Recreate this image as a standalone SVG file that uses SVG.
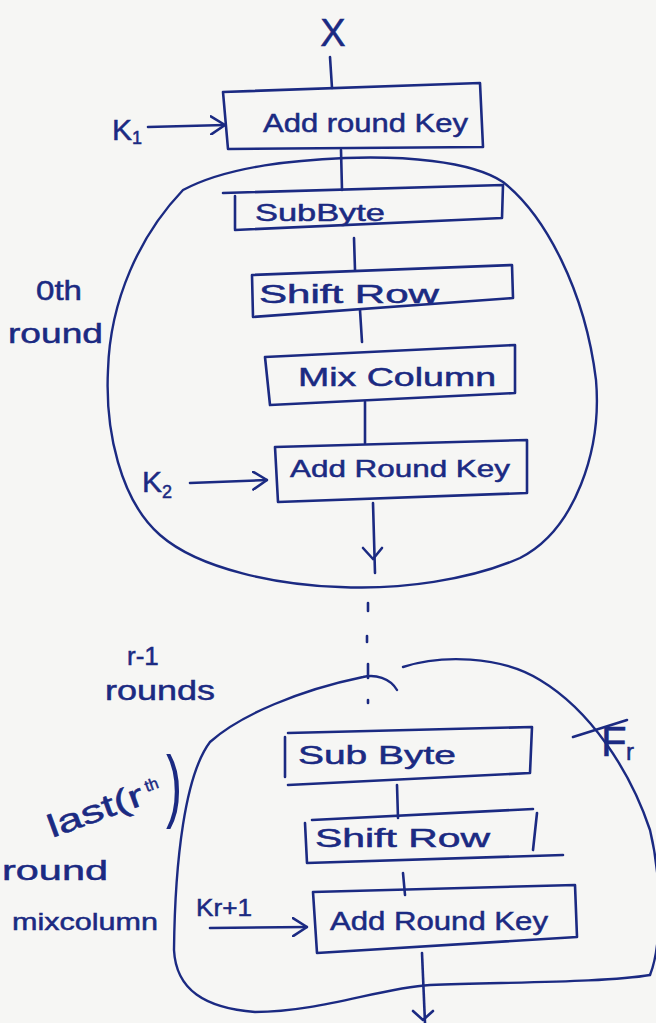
<svg xmlns="http://www.w3.org/2000/svg" width="656" height="1023" viewBox="0 0 656 1023">
  <defs>
    <style>
      .ink { fill: none; stroke: #1b2a82; stroke-width: 2.6; stroke-linecap: round; stroke-linejoin: round; }
      .box { fill: none; stroke: #1b2a82; stroke-width: 2.6; stroke-linecap: round; stroke-linejoin: round; }
      .cloud { fill: none; stroke: #1b2a82; stroke-width: 2.4; stroke-linecap: round; stroke-linejoin: round; }
      .t { font-family: "Liberation Sans", "DejaVu Sans", sans-serif; fill: #1b2a82; stroke: #1b2a82; stroke-width: 0.5; }
      .lbl { font-size: 26px; }
      .sm { font-size: 24px; }
    </style>
    <marker id="arr" viewBox="0 0 16 20" refX="15" refY="10" markerWidth="16" markerHeight="20" markerUnits="userSpaceOnUse" orient="auto">
      <path d="M1 1 L15 10 L1 19" fill="none" stroke="#1b2a82" stroke-width="2.6" stroke-linecap="round" stroke-linejoin="round"/>
    </marker>
  </defs>
  <rect x="0" y="0" width="656" height="1023" fill="#f6f6f4"/>

  <!-- rounds enclosures -->
  <g id="round0-cloud">
    <path class="cloud" d="M183 190 C230 165 300 160 345 158 C400 156 470 160 503 182 C545 215 585 290 596 380 C602 450 575 530 520 558 C470 580 400 590 340 587 C280 585 200 570 160 535 C120 500 105 430 108 370 C110 300 140 235 183 190 Z"/>
  </g>
  <g id="roundr-cloud">
    <path class="cloud" d="M397 690 C390 678 375 674 363 677 C300 690 240 715 210 742 C185 775 175 860 174 950 C176 990 205 1008 255 1012 C320 1012 380 988 430 985 C520 982 610 982 650 975"/>
    <path class="cloud" d="M403 667 C440 655 500 655 540 680 C590 710 630 770 650 830 C662 880 662 945 650 975"/>
  </g>

  <!-- connectors -->
  <g id="connectors">
    <path class="ink" d="M330 57 L332 88"/>
    <path class="ink" d="M148 127 L225 125" marker-end="url(#arr)"/>
    <path class="ink" d="M341 150 L342 190"/>
    <path class="ink" d="M354 238 L355 270"/>
    <path class="ink" d="M360 310 L362 342"/>
    <path class="ink" d="M365 402 L365 443"/>
    <path class="ink" d="M190 483 L267 480" marker-end="url(#arr)"/>
    <path class="ink" d="M373 503 L375 573"/>
    <path class="ink" d="M363 548 L373 559 L382 548"/>
    <path class="ink" d="M368 603 L368 611"/>
    <path class="ink" d="M367 636 L367 642"/>
    <path class="ink" d="M368 664 L368 678"/>
    <path class="ink" d="M368 700 L368 703"/>
    <path class="ink" d="M397 785 L398 818"/>
    <path class="ink" d="M403 873 L405 895"/>
    <path class="ink" d="M210 928 L307 927" marker-end="url(#arr)"/>
    <path class="ink" d="M422 953 L425 1023"/>
    <path class="ink" d="M413 1011 L423 1020 L433 1011"/>
  </g>

  <!-- nodes -->
  <g id="input-x">
    <text class="t" x="333" y="46" font-size="38" text-anchor="middle">X</text>
  </g>
  <g id="k1">
    <text class="t" x="112" y="140" font-size="30">K<tspan font-size="18" dy="4">1</tspan></text>
  </g>
  <g id="add-round-key-1">
    <path class="box" d="M223 92 L480 83 L483 147 L228 149 Z"/>
    <text class="t lbl" x="263" y="132" textLength="205" lengthAdjust="spacingAndGlyphs">Add round Key</text>
  </g>
  <g id="sub-byte-1">
    <path class="box" d="M223 193 L503 185 L502 218 L235 230 M235 196 L235 229"/>
    <text class="t sm" x="255" y="221" textLength="130" lengthAdjust="spacingAndGlyphs">SubByte</text>
  </g>
  <g id="shift-row-1">
    <path class="box" d="M252 275 L512 265 L513 298 L253 317 Z"/>
    <text class="t lbl" x="259" y="303" textLength="180" lengthAdjust="spacingAndGlyphs">Shift Row</text>
  </g>
  <g id="mix-column">
    <path class="box" d="M265 357 L515 345 L515 393 L270 405 Z"/>
    <text class="t lbl" x="298" y="386" textLength="198" lengthAdjust="spacingAndGlyphs">Mix Column</text>
  </g>
  <g id="add-round-key-2">
    <path class="box" d="M275 447 L527 440 L527 493 L278 502 Z"/>
    <text class="t sm" x="290" y="477" textLength="220" lengthAdjust="spacingAndGlyphs">Add Round Key</text>
  </g>
  <g id="k2">
    <text class="t" x="142" y="492" font-size="30">K<tspan font-size="18" dy="6">2</tspan></text>
  </g>
  <g id="label-0th-round">
    <text class="t" x="36" y="300" font-size="28" textLength="46" lengthAdjust="spacingAndGlyphs">0th</text>
    <text class="t" x="8" y="343" font-size="28" textLength="95" lengthAdjust="spacingAndGlyphs">round</text>
  </g>
  <g id="label-r-1-rounds">
    <text class="t" x="127" y="665" font-size="26">r-1</text>
    <text class="t" x="105" y="700" font-size="28" textLength="110" lengthAdjust="spacingAndGlyphs">rounds</text>
  </g>
  <g id="label-last-round">
    <text class="t" x="52" y="838" font-size="32" transform="rotate(-20 52 838)" textLength="100" lengthAdjust="spacingAndGlyphs">last(r</text>
    <text class="t" x="147" y="792" font-size="16" transform="rotate(-20 147 792)">th</text>
    <text x="166" y="812" font-size="80" font-family="Liberation Sans, sans-serif" fill="#1b2a82" textLength="16" lengthAdjust="spacingAndGlyphs">)</text>
    <text class="t" x="2" y="880" font-size="28" textLength="106" lengthAdjust="spacingAndGlyphs">round</text>
    <text class="t" x="12" y="930" font-size="24" textLength="146" lengthAdjust="spacingAndGlyphs">mixcolumn</text>
  </g>
  <g id="fr">
    <path class="ink" d="M573 737 L627 720"/>
    <text class="t" x="601" y="756" font-size="42">F</text>
    <text class="t" x="626" y="760" font-size="24">r</text>
  </g>
  <g id="sub-byte-r">
    <path class="box" d="M288 733 L532 727 L530 773 L288 785 M285 737 L285 777"/>
    <text class="t lbl" x="298" y="764" textLength="158" lengthAdjust="spacingAndGlyphs">Sub Byte</text>
  </g>
  <g id="shift-row-r">
    <path class="box" d="M312 820 L533 809 M537 813 L533 850 M307 863 L563 855 M305 823 L307 863"/>
    <text class="t lbl" x="315" y="847" textLength="175" lengthAdjust="spacingAndGlyphs">Shift Row</text>
  </g>
  <g id="add-round-key-r">
    <path class="box" d="M313 892 L575 885 L577 937 L317 953 Z"/>
    <text class="t lbl" x="330" y="930" textLength="218" lengthAdjust="spacingAndGlyphs">Add Round Key</text>
  </g>
  <g id="kr1">
    <text class="t" x="196" y="916" font-size="24" textLength="56" lengthAdjust="spacingAndGlyphs">Kr+1</text>
  </g>
</svg>
